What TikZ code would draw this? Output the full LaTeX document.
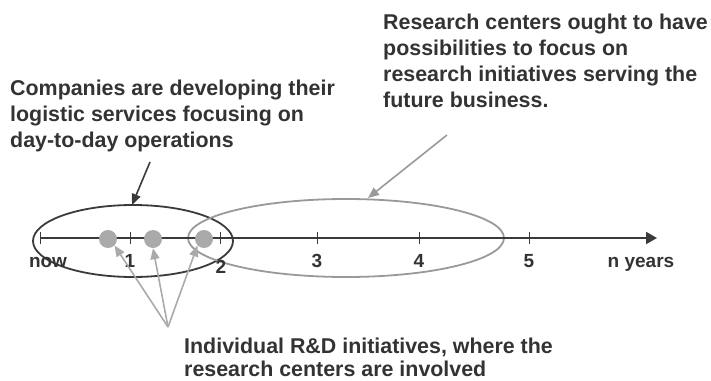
\documentclass[tikz,border=0pt]{standalone}
\usepackage{fontspec}
\setmainfont{Liberation Sans}
\usetikzlibrary{arrows.meta}
\definecolor{txt}{HTML}{333333}
\definecolor{darkl}{HTML}{3A3A3A}
\definecolor{lightl}{HTML}{999999}
\definecolor{dotc}{HTML}{AAAAAA}
\begin{document}
\begin{tikzpicture}[x=1pt,y=-1pt,
  bigtext/.style={font=\bfseries\fontsize{21.4}{26}\selectfont, text=txt, align=left, inner sep=0pt, anchor=north west},
  numlbl/.style={font=\bfseries\fontsize{19}{22}\selectfont, text=txt, inner sep=0pt, anchor=base},
  tickmark/.style={darkl, line width=1pt},
  dotnode/.style={circle, fill=dotc, minimum size=18pt, inner sep=0pt},
  darkarrow/.style={darkl, line width=1.6pt, -{Triangle[length=11pt,width=9pt]}},
  lightarrow/.style={lightl, line width=1.6pt, -{Triangle[length=11pt,width=9pt]}},
  grayarrow/.style={dotc, line width=1.6pt, -{Triangle[length=11pt,width=9pt]}}]
\useasboundingbox (0,0) rectangle (711,380);
% ellipses
\draw[darkl, line width=1.8pt] (133,241) ellipse [x radius=100, y radius=36];
\draw[lightl, line width=1.8pt] (346,238) ellipse [x radius=158, y radius=39];
% axis
\coordinate (axs) at (40,238);
\coordinate (axe) at (657,238);
\draw[darkl, line width=2pt, -{Triangle[length=11pt,width=12pt]}] (axs) -- (axe);
\foreach \x in {40,130,220,317,419,529} \draw[tickmark] (\x,232) -- (\x,244);
% labels
\node[numlbl] (lnow) at (48,267) {now};
\node[numlbl] (l1) at (130,267) {1};
\node[numlbl] (l2) at (221,273) {2};
\node[numlbl] (l3) at (317,267) {3};
\node[numlbl] (l4) at (419,267) {4};
\node[numlbl] (l5) at (529,267) {5};
\node[numlbl] (lny) at (641,267) {n years};
% dots
\node[dotnode] (d1) at (108,239) {};
\node[dotnode] (d2) at (153,239) {};
\node[dotnode] (d3) at (204,239) {};
% texts
\node[bigtext] (comp) at (10,79.5) {Companies are developing their\\logistic services focusing on\\day-to-day operations};
\node[bigtext] (res) at (383,13.5) {Research centers ought to have\\possibilities to focus on\\research initiatives serving the\\future business.};
\node[bigtext, font=\bfseries\fontsize{21.4}{23}\selectfont] (ind) at (184,337.5) {Individual R\&D initiatives, where the\\research centers are involved};
% arrows
\coordinate (ca) at (150,162);
\coordinate (cb) at (132,205);
\draw[darkarrow] (ca) -- (cb);
\coordinate (ra) at (447,135);
\coordinate (rb) at (368,198);
\draw[lightarrow] (ra) -- (rb);
\coordinate (ga) at (168,327);
\draw[grayarrow] (ga) -- (d1.south east);
\draw[grayarrow] (ga) -- (d2.south);
\draw[grayarrow] (ga) -- (d3.south west);
\end{tikzpicture}
\end{document}
